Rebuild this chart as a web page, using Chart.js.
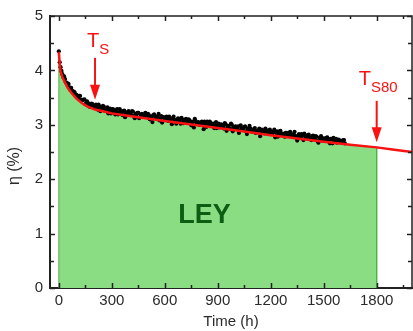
<!DOCTYPE html>
<html>
<head>
<meta charset="utf-8">
<script src="https://cdn.jsdelivr.net/npm/chart.js@4.4.1/dist/chart.umd.min.js"></script>
<style>
html,body{margin:0;padding:0;background:#fff;}
#wrap{width:413px;height:331px;}
</style>
</head>
<body>
<div id="wrap"><canvas id="c" width="413" height="331"></canvas></div>
<script>
// ---- data ----
const xTickLabels = [0, 300, 600, 900, 1200, 1500, 1800];
const xMinorTicks = [0, 150, 300, 450, 600, 750, 900, 1050, 1200, 1350, 1500, 1650, 1800, 1950];
const yTickLabels = [0, 1, 2, 3, 4, 5];
const yMinorTicks = [0, 0.5, 1, 1.5, 2, 2.5, 3, 3.5, 4, 4.5, 5];
const xTitle = 'Time (h)';
const yTitle = 'η (%)';

// red fit curve
const fitTime = [0, 5, 10, 20, 36, 50, 73, 100, 130, 160, 205, 250, 300, 400, 500, 600, 750, 900, 1050, 1200, 1350, 1500, 1650, 1800, 1900, 2000];
const fitEta  = [4.34, 4.12, 3.98, 3.88, 3.77, 3.68, 3.58, 3.48, 3.40, 3.34, 3.28, 3.25, 3.21, 3.16, 3.115, 3.07, 3.005, 2.94, 2.875, 2.81, 2.75, 2.69, 2.635, 2.585, 2.54, 2.50];

// green area (LEY) ends at T_S80
const areaEnd = 1800;

// measured points (black dots), sampled every 10 h starting at 0 h (A) and 5 h (B)
const dotStep = 10;
const dotEtaA = [
 4.35,4.06,3.93,3.89,3.78,3.76,3.69,3.68,3.60,3.59,
 3.55,3.49,3.53,3.46,3.46,3.38,3.43,3.39,3.35,3.38,
 3.34,3.37,3.28,3.34,3.30,3.35,3.26,3.29,3.21,3.30,
 3.24,3.28,3.19,3.29,3.23,3.25,3.18,3.26,3.20,3.22,
 3.22,3.18,3.24,3.12,3.19,3.22,3.14,3.20,3.16,3.22,
 3.14,3.18,3.15,3.05,3.19,3.12,3.15,3.08,3.16,3.13,
 3.11,3.15,3.07,3.12,3.01,3.15,3.07,3.09,3.11,3.02,
 3.09,3.04,3.11,3.05,3.08,2.99,3.05,3.11,3.02,3.05,
 3.01,3.06,2.92,3.02,3.06,2.98,3.03,2.99,2.94,3.05,
 2.99,2.95,3.01,2.97,3.03,2.89,2.98,2.93,3.00,2.95,
 2.97,2.92,2.85,2.99,2.93,2.96,2.88,2.93,2.98,2.88,
 2.90,2.94,2.87,2.90,2.79,2.91,2.86,2.93,2.87,2.83,
 2.88,2.84,2.91,2.85,2.78,2.88,2.83,2.84,2.78,2.85,
 2.82,2.87,2.78,2.83,2.79,2.71,2.83,2.77,2.80,2.84,
 2.76,2.81,2.77,2.72,2.80,2.75,2.78,2.67,2.76,2.71,
 2.75,2.71,2.77,2.73,2.74,2.66,2.71,2.74,2.69,2.71,
 2.69,2.72,2.66
];
const dotEtaB = [
 4.15,3.99,3.88,3.84,3.76,3.75,3.64,3.63,3.61,3.54,
 3.52,3.53,3.45,3.46,3.47,3.39,3.39,3.33,3.39,3.35,
 3.31,3.34,3.37,3.25,3.30,3.33,3.27,3.32,3.26,3.21,
 3.29,3.22,3.25,3.19,3.29,3.21,3.25,3.14,3.23,3.25,
 3.19,3.25,3.16,3.20,3.22,3.12,3.18,3.15,3.19,3.16,
 3.20,3.10,3.15,3.18,3.12,3.15,3.20,3.11,3.04,3.14,
 3.09,3.12,3.15,3.06,3.12,3.09,3.02,3.12,3.08,3.13,
 3.03,3.09,3.06,3.10,3.03,3.06,2.95,3.07,3.03,3.00,
 3.04,3.00,3.06,2.96,3.01,3.06,2.99,3.02,2.99,2.94,
 3.02,2.96,2.99,2.93,3.01,2.97,2.93,3.02,2.88,2.96,
 2.94,2.97,2.90,2.94,2.91,2.97,2.83,2.92,2.93,2.88,
 2.92,2.85,2.89,2.93,2.87,2.89,2.84,2.90,2.86,2.91,
 2.83,2.87,2.77,2.88,2.83,2.89,2.83,2.79,2.85,2.80,
 2.85,2.79,2.82,2.87,2.76,2.80,2.76,2.83,2.72,2.79,
 2.78,2.82,2.74,2.79,2.74,2.79,2.70,2.76,2.79,2.73,
 2.72,2.76,2.73,2.66,2.73,2.76,2.70,2.67,2.73,2.68,
 2.70,2.72
];

// arrows: T_S and T_S80
const arrowLabels = ['S', 'S80'];
const arrowTime   = [205, 1800];
const arrowTopEta = [4.23, 3.44];
const arrowTipEta = [3.46, 2.68];

// ---- build datasets ----
const fitPoints = fitTime.map((t, i) => ({x: t, y: fitEta[i]}));
const areaPoints = [{x: 0, y: 0}].concat(fitPoints.filter(p => p.x <= areaEnd)).concat([{x: areaEnd, y: 0}]);
const dots = dotEtaA.map((v, i) => ({x: i * dotStep, y: v}))
  .concat(dotEtaB.map((v, i) => ({x: i * dotStep + dotStep / 2, y: v})));

const FONT = "'Liberation Sans', Arial, sans-serif";
const RED = 'rgb(250,18,18)';
const TEXT = '#2a2a2a';

const framePlugin = {
  id: 'framePlugin',
  afterDraw(chart) {
    const {ctx, chartArea: a, scales: {x, y}} = chart;
    ctx.save();
    ctx.strokeStyle = '#222';
    ctx.lineWidth = 1.5;
    ctx.beginPath();
    ctx.moveTo(a.left, a.top); ctx.lineTo(a.right, a.top); ctx.lineTo(a.right, a.bottom);
    ctx.stroke();
    ctx.beginPath();
    xMinorTicks.forEach(v => {
      const px = Math.round(x.getPixelForValue(v)) + 0.5;
      const len = xTickLabels.includes(v) ? 5 : 3;
      ctx.moveTo(px, a.bottom); ctx.lineTo(px, a.bottom - len);
      ctx.moveTo(px, a.top); ctx.lineTo(px, a.top + len);
    });
    yMinorTicks.forEach(v => {
      const py = Math.round(y.getPixelForValue(v)) + 0.5;
      const len = yTickLabels.includes(v) ? 5 : 4;
      ctx.moveTo(a.left, py); ctx.lineTo(a.left + len, py);
      ctx.moveTo(a.right, py); ctx.lineTo(a.right - len, py);
    });
    ctx.stroke();

    // y axis title
    ctx.save();
    ctx.translate(15, (a.top + a.bottom) / 2 + 14);
    ctx.rotate(-Math.PI / 2);
    ctx.fillStyle = TEXT;
    ctx.font = "16px " + FONT;
    ctx.textAlign = 'center';
    ctx.textBaseline = 'middle';
    ctx.fillText(yTitle, 0, 0);
    ctx.restore();

    // LEY label
    ctx.fillStyle = '#0d5e12';
    ctx.font = "bold 27px " + FONT;
    ctx.textAlign = 'center';
    ctx.textBaseline = 'middle';
    ctx.fillText('LEY', x.getPixelForValue(825), y.getPixelForValue(1.34));

    // arrows with T_x labels
    const labelOffsets = [[-8, -11], [-18, -16]];
    arrowTime.forEach((t, i) => {
      const px = x.getPixelForValue(t);
      const top = y.getPixelForValue(arrowTopEta[i]);
      const tip = y.getPixelForValue(arrowTipEta[i]);
      ctx.strokeStyle = RED; ctx.fillStyle = RED;
      ctx.lineWidth = 2;
      ctx.beginPath(); ctx.moveTo(px, top); ctx.lineTo(px, tip - 12); ctx.stroke();
      ctx.beginPath();
      ctx.moveTo(px - 5, tip - 15); ctx.lineTo(px + 5, tip - 15); ctx.lineTo(px, tip); ctx.closePath(); ctx.fill();
      const lx = px + labelOffsets[i][0];
      const ly = top + labelOffsets[i][1];
      ctx.textAlign = 'left';
      ctx.textBaseline = 'alphabetic';
      ctx.font = "20px " + FONT;
      ctx.fillText('T', lx, ly);
      const tw = ctx.measureText('T').width;
      ctx.font = "15px " + FONT;
      ctx.fillText(arrowLabels[i], lx + tw, ly + 7);
    });
    ctx.restore();
  }
};

new Chart(document.getElementById('c'), {
  type: 'line',
  data: {
    datasets: [
      {
        label: 'fit', data: fitPoints, borderColor: RED, borderWidth: 2.5,
        pointRadius: 0, tension: 0, fill: false, order: 0
      },
      {
        type: 'scatter', label: 'data', data: dots, showLine: false,
        pointRadius: 2.1, pointBackgroundColor: '#000', pointBorderWidth: 0, order: 1
      },
      {
        label: 'LEY', data: areaPoints, borderColor: 'rgb(78,178,72)', borderWidth: 1,
        backgroundColor: 'rgb(139,221,131)', pointRadius: 0, tension: 0, fill: 'origin', order: 2
      }
    ]
  },
  options: {
    responsive: false,
    animation: false,
    devicePixelRatio: 1,
    layout: {autoPadding: false, padding: {top: 16, right: 1, left: 0, bottom: 0}},
    plugins: {legend: {display: false}, tooltip: {enabled: false}},
    scales: {
      x: {
        type: 'linear', min: -50, max: 2000,
        grid: {display: false, drawTicks: false},
        border: {display: true, width: 2, color: '#222'},
        afterBuildTicks: s => { s.ticks = xTickLabels.map(v => ({value: v})); },
        afterFit: s => { s.height = 43; s.paddingLeft = 0; s.paddingRight = 0; },
        ticks: {padding: 4, color: TEXT, font: {family: FONT, size: 15}, maxRotation: 0, autoSkip: false,
                callback: v => String(v)},
        title: {display: true, text: xTitle, color: TEXT, font: {family: FONT, size: 15}, padding: {top: 0, bottom: 0}}
      },
      y: {
        type: 'linear', min: 0, max: 5,
        grid: {display: false, drawTicks: false},
        border: {display: true, width: 2, color: '#222'},
        afterBuildTicks: s => { s.ticks = yTickLabels.map(v => ({value: v})); },
        afterFit: s => { s.width = 50; s.paddingTop = 0; s.paddingBottom = 0; },
        ticks: {padding: 7, color: TEXT, font: {family: FONT, size: 15}, callback: v => String(v)},
        title: {display: false, text: yTitle}
      }
    }
  },
  plugins: [framePlugin]
});
</script>
</body>
</html>
